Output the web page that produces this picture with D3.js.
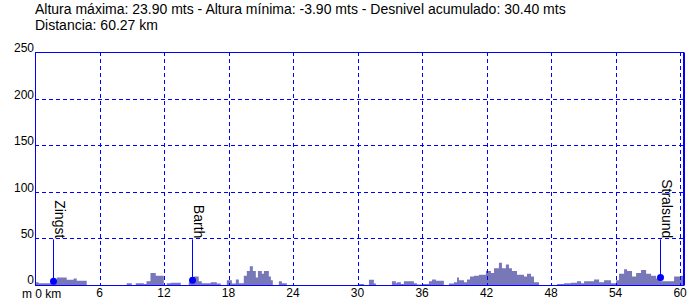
<!DOCTYPE html>
<html>
<head>
<meta charset="utf-8">
<script src="https://cdn.jsdelivr.net/npm/d3@7"></script>
<style>
  body { margin: 0; background: #fff; }
  svg text { font-family: "Liberation Sans", Arial, sans-serif; fill: #000; }
</style>
</head>
<body>
<div id="chart"></div>
<script>
// profile: distance (km) and elevation (m), stepped
const distKm = [0, 0.34, 1.46, 2.02, 2.95, 3.60, 3.88, 4.81, 8.53, 9.00, 9.37, 10.12, 10.37, 10.74, 11.23, 11.98,
  12.26, 12.63, 13.56, 14.30, 14.58, 14.77, 15.23, 15.51, 16.35, 16.91, 17.28, 17.84, 18.31, 18.68, 18.96,
  19.42, 19.70, 19.98, 20.26, 20.54, 20.73, 21.10, 21.29, 21.75, 21.94, 22.12, 22.68, 22.96, 23.42, 26.49,
  30.12, 30.59, 31.06, 31.52, 31.71, 33.20, 33.57, 33.66, 34.03, 34.31, 35.24, 35.52, 35.99, 36.64, 36.92,
  37.29, 38.03, 38.50, 38.97, 39.25, 39.43, 39.90, 40.18, 40.46, 40.83, 41.29, 41.94, 42.41, 42.69, 43.15,
  43.43, 43.80, 44.08, 44.36, 44.83, 45.48, 45.76, 46.13, 46.41, 46.88, 48.55, 49.21, 49.86, 50.41, 50.79,
  51.07, 52.00, 52.47, 52.93, 53.58, 54.05, 54.32, 54.79, 55.07, 55.53, 55.91, 56.37, 56.84, 57.30, 57.77,
  58.23, 58.79, 59.44, 60.09, 60.27];
const elevM = [3, 2, 5, 8, 5.5, 7, 4.5, -1, 2, -1, 2, 1, 4, 13, 10, -1,
  2, 2.5, -1.5, 3, 6, 9, 4, 2, 3, 1.5, -2, 5, 1.5, 6, 2,
  10, 15, 20, 15, 8, 15, 12, 15, 9, 5, -1, 4, 2, -2, -3.9,
  1, -1, 5.5, 1.5, -1, 4, 2, 3, 1, 4, 2, 0.5, 1, 4, 6,
  4.5, -1, 1.5, 3, 8, 5, 3, 6, 9, 10, 11, 15, 13, 18, 23.9,
  18, 22, 18, 15, 11, 9, 12, 9, 3, -1, 1, 2, 2.5, 4, 2,
  4, 6, 3, 5, 2, 5, 12, 17, 15, 9, 13, 16, 12, 10, 7,
  4, 4, 9, 10, 10];

const wayNames = ["Zingst", "Barth", "Stralsund"];
const wayKm = [1.68, 14.61, 58.17];
const wayElev = [4, 5, 8];

const xTicks = [6, 12, 18, 24, 30, 36, 42, 48, 54, 60];
const yTicks = [0, 50, 100, 150, 200, 250];
const titleLines = [
  "Altura máxima: 23.90 mts - Altura mínima: -3.90 mts - Desnivel acumulado: 30.40 mts",
  "Distancia: 60.27 km"
];

const width = 700, height = 300;
const margin = { top: 52, right: 17, bottom: 15, left: 35 };
const blue = "#0000ff";

const svg = d3.select("#chart").append("svg")
  .attr("width", width).attr("height", height);

const x = d3.scaleLinear().domain([0, 60.27]).range([margin.left, width - margin.right]);
const y = d3.scaleLinear().domain([0, 250]).range([height - margin.bottom, margin.top]);

const profile = distKm.map((d, i) => ({ km: d, m: elevM[i] }));

// title
svg.selectAll("text.title").data(titleLines).enter().append("text")
  .attr("class", "title")
  .attr("x", 35).attr("y", (d, i) => 14 + i * 16)
  .style("font-size", "14px")
  .text(d => d);

svg.append("clipPath").attr("id", "plot")
  .append("rect")
  .attr("x", x(0)).attr("y", y(250))
  .attr("width", x(60.27) - x(0)).attr("height", y(0) - y(250));

// elevation area
const area = d3.area()
  .x(d => x(d.km))
  .y0(y(0))
  .y1(d => y(d.m))
  .curve(d3.curveStepAfter);

svg.append("path")
  .datum(profile)
  .attr("clip-path", "url(#plot)")
  .attr("fill", "#7878b8")
  .attr("d", area);

// grid
svg.selectAll("line.vgrid").data(xTicks).enter().append("line")
  .attr("x1", d => Math.round(x(d)) + 0.5).attr("x2", d => Math.round(x(d)) + 0.5)
  .attr("y1", y(250)).attr("y2", y(0))
  .attr("stroke", blue).attr("stroke-width", 1)
  .attr("stroke-dasharray", "4,3");

svg.selectAll("line.hgrid").data(yTicks.filter(d => d > 0 && d < 250)).enter().append("line")
  .attr("x1", x(0)).attr("x2", x(60.27))
  .attr("y1", d => Math.round(y(d)) + 0.5).attr("y2", d => Math.round(y(d)) + 0.5)
  .attr("stroke", blue).attr("stroke-width", 1)
  .attr("stroke-dasharray", "4,3");

// frame
const fx0 = Math.round(x(0)) + 0.5, fx1 = Math.round(x(60.27)) + 0.5;
const fy0 = Math.round(y(250)) + 0.5, fy1 = Math.round(y(0)) + 0.5;
svg.append("rect")
  .attr("x", fx0).attr("y", fy0)
  .attr("width", fx1 - fx0).attr("height", fy1 - fy0)
  .attr("fill", "none").attr("stroke", blue).attr("stroke-width", 1);
svg.append("line")
  .attr("x1", fx1 + 1).attr("x2", fx1 + 1).attr("y1", fy0).attr("y2", fy1)
  .attr("stroke", blue).attr("stroke-width", 1);

// axis labels
svg.selectAll("text.ylab").data(yTicks).enter().append("text")
  .attr("x", x(0) - 1).attr("y", d => y(d) - (d === 0 ? 1 : 0))
  .attr("text-anchor", "end")
  .style("font-size", "12px")
  .text(d => d);

svg.selectAll("text.xlab").data(xTicks).enter().append("text")
  .attr("x", d => x(d)).attr("y", height - 3)
  .attr("text-anchor", "middle")
  .style("font-size", "12px")
  .text(d => d);

svg.append("text")
  .attr("x", 22).attr("y", height - 2)
  .style("font-size", "12px")
  .text("m 0 km");

// waypoints
const wp = svg.selectAll("g.wp").data(wayNames).enter().append("g");
wp.append("line")
  .attr("x1", (d, i) => Math.round(x(wayKm[i])) + 0.5).attr("x2", (d, i) => Math.round(x(wayKm[i])) + 0.5)
  .attr("y1", (d, i) => y(wayElev[i])).attr("y2", y(49))
  .attr("stroke", blue).attr("stroke-width", 1);
wp.append("circle")
  .attr("cx", (d, i) => Math.round(x(wayKm[i])) + 0.5).attr("cy", (d, i) => y(wayElev[i]))
  .attr("r", 3.5).attr("fill", blue);
wp.append("text")
  .attr("transform", (d, i) => `translate(${Math.round(x(wayKm[i])) + 1.5},${y(49) - 1}) rotate(90)`)
  .attr("text-anchor", "end")
  .style("font-size", "14px")
  .text(d => d);
</script>
</body>
</html>
